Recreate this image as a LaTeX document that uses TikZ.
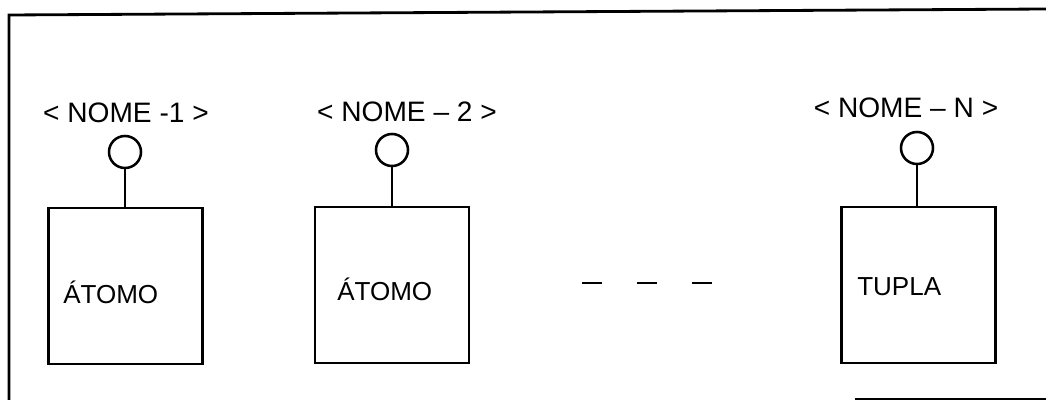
\documentclass[tikz,border=0pt]{standalone}
\usepackage{fontspec}
\setmainfont{Liberation Sans}
\begin{document}
\begin{tikzpicture}[x=0.025cm, y=-0.025cm,
  caixa/.style={draw, line width=1.8pt, minimum width=3.85cm, minimum height=3.9cm, inner sep=0pt},
  bola/.style={draw, circle, line width=1.8pt, minimum size=0.8cm, inner sep=0pt},
  rotulo/.style={font=\fontsize{20}{24}\selectfont},
  tipo/.style={font=\fontsize{18.5}{22}\selectfont, anchor=west, inner sep=0pt}]
\useasboundingbox (0,0) rectangle (1046,400);

% moldura
\draw[line width=2pt] (1046,9) -- (9,15) -- (9,400);
\draw[line width=2pt] (855,399) -- (1046,399);

% caixas
\node[caixa] (caixa1) at (125.5,286) {};
\node[caixa] (caixa2) at (392,285) {};
\node[caixa] (caixaN) at (918.5,285) {};

% bolas e nomes
\node[bola] (bola1) at (125,152) {};
\node[bola] (bola2) at (392,150) {};
\node[bola] (bolaN) at (917,148) {};
\node[rotulo] (nome1) at (126,113) {< NOME -1 >};
\node[rotulo] (nome2) at (407,112) {< NOME – 2 >};
\node[rotulo] (nomeN) at (906,108) {< NOME – N >};

\draw[line width=1.8pt] (bola1.south) -- (bola1.south |- caixa1.north);
\draw[line width=1.8pt] (bola2.south) -- (bola2.south |- caixa2.north);
\draw[line width=1.8pt] (bolaN.south) -- (bolaN.south |- caixaN.north);

% conteudo
\node[tipo] (tipo1) at (63,292) {ÁTOMO};
\node[tipo] (tipo2) at (337,289) {ÁTOMO};
\node[tipo] (tipoN) at (857,287) {TUPLA};

% reticencias
\draw[line width=1.5pt, dash pattern=on 14.2pt off 24.9pt] (582,283) -- (712,283);
\end{tikzpicture}
\end{document}
